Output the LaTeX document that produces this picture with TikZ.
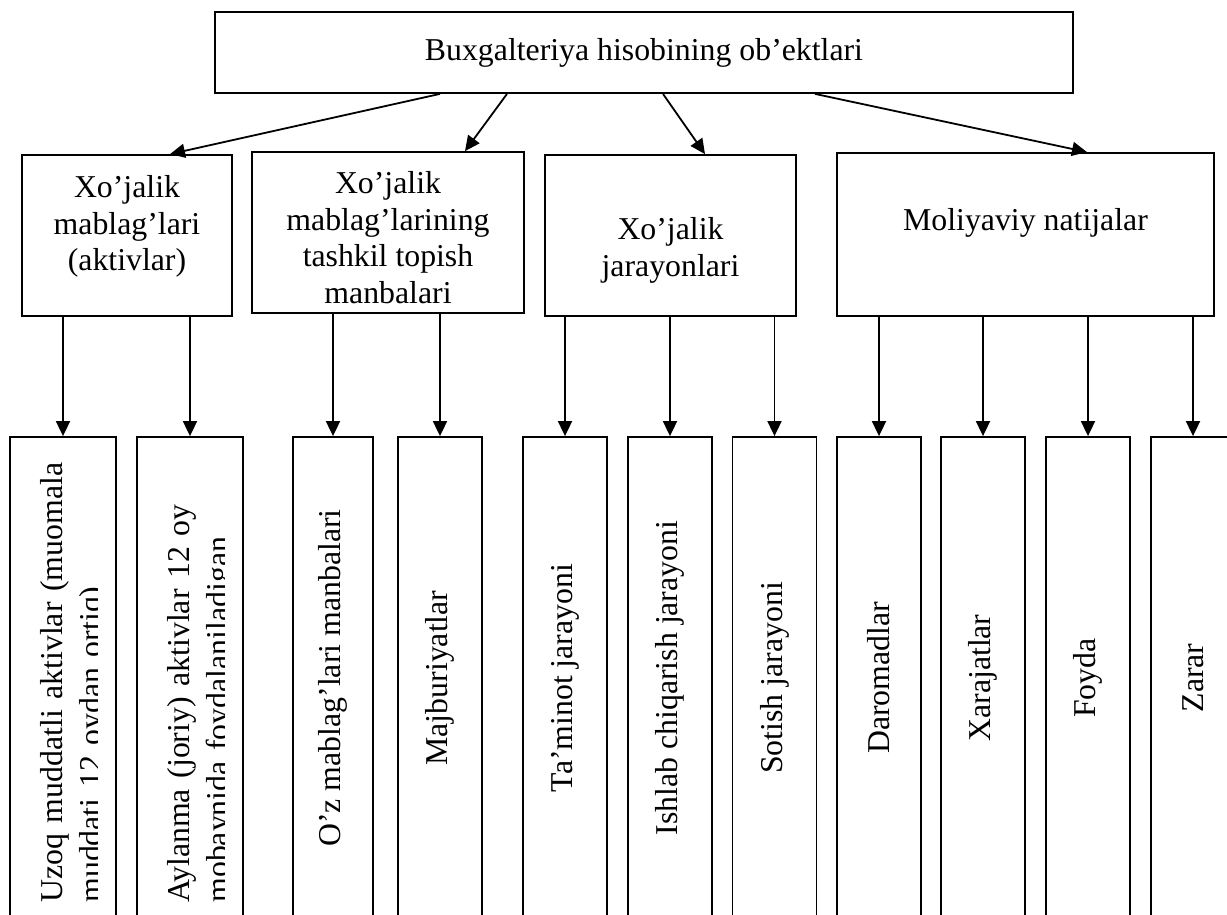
\documentclass[tikz,border=0pt]{standalone}
\usepackage{fontspec}
\setmainfont{Liberation Serif}
\usepackage{graphicx}
\usetikzlibrary{arrows.meta}
\newcommand{\objfont}{\fontsize{15.9}{18.3}\selectfont}
\newcommand{\leaffont}{\fontsize{15.9}{19.75}\selectfont}

\begin{document}
\begin{tikzpicture}[x=0.5pt, y=-0.5pt,
    objbox/.style={draw, line width=0.9pt, inner sep=0pt, font=\objfont},
    boxtxt/.style={align=center, inner sep=0pt, font=\objfont},
    leaf/.style={draw, line width=0.9pt, inner sep=0pt, minimum width=42pt,
                 minimum height=241pt, font=\leaffont},
    leaftxt/.style={rotate=90, anchor=north west, align=left, inner sep=0pt,
                    text width=235pt, font=\leaffont},
    arr/.style={-{Triangle[length=7.5pt,width=7pt]}, line width=0.9pt}]
  \path[use as bounding box, clip] (0,0) rectangle (1227,915);
  % row 1
  \node[objbox, minimum width=429pt, minimum height=40.5pt] (obj) at (644,52.5)
       {Buxgalteriya hisobining ob’ektlari};
  % row 2
  \node[objbox, minimum width=105pt, minimum height=80.5pt] (akt) at (127,235.5) {};
  \node[boxtxt] (akttxt) at (127,226.5) {Xo’jalik\\mablag’lari\\(aktivlar)};
  \node[objbox, minimum width=136pt, minimum height=80.5pt] (man) at (388,232.5) {};
  \node[boxtxt] (mantxt) at (388,237.5)
       {Xo’jalik\\mablag’larining\\tashkil topish\\manbalari};
  \node[objbox, minimum width=125.5pt, minimum height=80.5pt] (jar) at (670.5,235.5) {};
  \node[boxtxt] (jartxt) at (670.5,250.5) {Xo’jalik\\jarayonlari};
  \node[objbox, minimum width=188.5pt, minimum height=81.5pt] (nat) at (1025.5,234.5) {};
  \node[boxtxt] (nattxt) at (1025.5,223) {Moliyaviy natijalar};
  \draw[arr] ([xshift=-102pt]obj.south) -- ([xshift=21.5pt]akt.north);
  \draw[arr] ([xshift=-68.5pt]obj.south) -- ([xshift=38.5pt]man.north);
  \draw[arr] ([xshift=9.5pt]obj.south) -- ([xshift=17.25pt]jar.north);
  \draw[arr] ([xshift=85.5pt]obj.south) -- ([xshift=30.75pt]nat.north);
  % row 3
  \node[leaf, minimum width=53pt] (uzoq) at (63,678) {};
  \node[leaf, minimum width=53pt] (aylan) at (190,678) {};
  \node[leaf, minimum width=40pt] (ozm) at (333,678) {\rotatebox{90}{O’z mablag’lari manbalari}};
  \node[leaf] (majb) at (440,678) {\rotatebox{90}{Majburiyatlar}};
  \node[leaf] (tam) at (565,678) {\rotatebox{90}{Ta’minot jarayoni}};
  \node[leaf] (ishlab) at (670,678) {\rotatebox{90}{Ishlab chiqarish jarayoni}};
  \node[leaf] (sotish) at (774.5,678) {\rotatebox{90}{Sotish jarayoni}};
  \node[leaf] (darom) at (879,678) {\rotatebox{90}{Daromadlar}};
  \node[leaf] (xaraj) at (983,678) {\rotatebox{90}{Xarajatlar}};
  \node[leaf] (foyda) at (1088,678) {\rotatebox{90}{Foyda}};
  \node[leaf] (zarar) at (1193,678) {\rotatebox{90}{Zarar}};
  % two-line texts, cut by the box margin
  \begin{scope}
    \clip (uzoq.north west) rectangle ([xshift=-9.5pt]uzoq.south east);
    \node[leaftxt] (uzoqtxt) at (40,903)
         {Uzoq muddatli aktivlar (muomala muddati 12 oydan ortiq)};
  \end{scope}
  \begin{scope}
    \clip (aylan.north west) rectangle ([xshift=-9.5pt]aylan.south east);
    \node[leaftxt] (aylantxt) at (167,903)
         {Aylanma (joriy) aktivlar 12 oy mobaynida foydalaniladigan};
  \end{scope}
  \draw[arr] (akt.south -| uzoq.north) -- (uzoq.north);
  \draw[arr] (akt.south -| aylan.north) -- (aylan.north);
  \draw[arr] (man.south -| ozm.north) -- (ozm.north);
  \draw[arr] (man.south -| majb.north) -- (majb.north);
  \draw[arr] (jar.south -| tam.north) -- (tam.north);
  \draw[arr] (jar.south -| ishlab.north) -- (ishlab.north);
  \draw[arr] (jar.south -| sotish.north) -- (sotish.north);
  \draw[arr] (nat.south -| darom.north) -- (darom.north);
  \draw[arr] (nat.south -| xaraj.north) -- (xaraj.north);
  \draw[arr] (nat.south -| foyda.north) -- (foyda.north);
  \draw[arr] (nat.south -| zarar.north) -- (zarar.north);
\end{tikzpicture}
\end{document}
